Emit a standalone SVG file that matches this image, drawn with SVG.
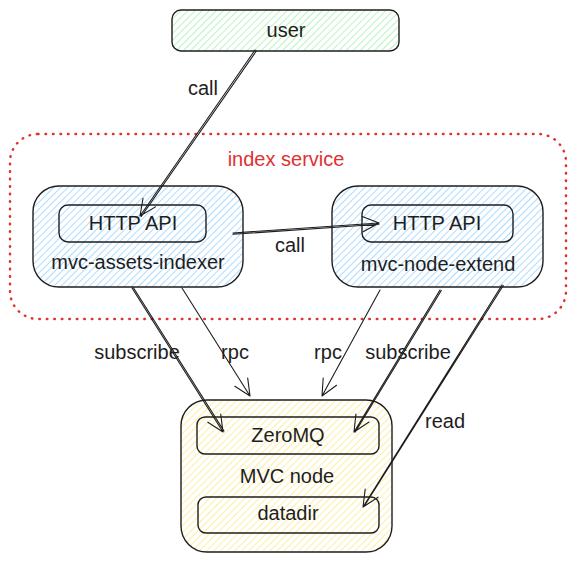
<svg xmlns="http://www.w3.org/2000/svg" width="574" height="561" viewBox="0 0 574 561">
  <defs>
    <pattern id="hGreen" patternUnits="userSpaceOnUse" width="5" height="5" patternTransform="rotate(45)">
      <line x1="0" y1="0" x2="0" y2="5" stroke="#b2f2bb" stroke-width="1.8"/>
    </pattern>
    <pattern id="hBlue" patternUnits="userSpaceOnUse" width="5" height="5" patternTransform="rotate(45)">
      <line x1="0" y1="0" x2="0" y2="5" stroke="#a5d8ff" stroke-width="1.8"/>
    </pattern>
    <pattern id="hYellow" patternUnits="userSpaceOnUse" width="5" height="5" patternTransform="rotate(45)">
      <line x1="0" y1="0" x2="0" y2="5" stroke="#ffec99" stroke-width="1.8"/>
    </pattern>
  </defs>
  <style>
    .box { stroke: #1e1e1e; stroke-width: 1.4; }
    .inner { fill: none; stroke: #1e1e1e; stroke-width: 1.4; }
    .t { font-family: "Liberation Sans", "DejaVu Sans", sans-serif; font-size: 20px; fill: #1e1e1e; text-anchor: middle; dominant-baseline: central; }
    .red { fill: #e03131; }
    .conn { fill: none; stroke: #1e1e1e; stroke-width: 1.1; stroke-linecap: round; stroke-linejoin: round; }
    .group { fill: none; stroke: #e03131; stroke-width: 2.5; stroke-dasharray: 0.5 7; stroke-linecap: round; }
  </style>
  <rect width="574" height="561" fill="#ffffff"/>

  <g id="index-service">
    <rect class="group" x="10" y="134" width="556" height="185" rx="28"/>
    <text class="t red" x="286" y="159">index service</text>
  </g>

  <g id="user">
    <rect class="box" fill="url(#hGreen)" x="172" y="10" width="227" height="41" rx="9"/>
    <text class="t" x="286" y="30">user</text>
  </g>

  <g id="mvc-assets-indexer">
    <rect class="box" fill="url(#hBlue)" x="33" y="186" width="210" height="101" rx="26"/>
    <rect class="inner" x="59" y="205" width="147" height="37" rx="9"/>
    <text class="t" x="133" y="223">HTTP API</text>
    <text class="t" x="138" y="262">mvc-assets-indexer</text>
  </g>

  <g id="mvc-node-extend">
    <rect class="box" fill="url(#hBlue)" x="332" y="186" width="211" height="101" rx="26"/>
    <rect class="inner" x="362" y="205" width="151" height="37" rx="9"/>
    <text class="t" x="437" y="223">HTTP API</text>
    <text class="t" x="438" y="264">mvc-node-extend</text>
  </g>

  <g id="mvc-node">
    <rect class="box" fill="url(#hYellow)" x="181" y="400" width="211" height="152" rx="26"/>
    <rect class="inner" x="197" y="417" width="182" height="37" rx="8"/>
    <text class="t" x="288" y="435">ZeroMQ</text>
    <text class="t" x="287" y="476">MVC node</text>
    <rect class="inner" x="198" y="497" width="181" height="36" rx="8"/>
    <text class="t" x="288" y="513">datadir</text>
  </g>

  <g id="connectors">
    <path class="conn" d="M255 50 L140 216 M256.3 51 L141.3 216.5 M155.5 206.9 L140 216 L143 198.3"/>
    <text class="t" x="203" y="88">call</text>

    <path class="conn" d="M233 233 L379 223 M233 234.3 L379 224.2 M362.2 216.5 L379 223 L363.2 231.7"/>
    <text class="t" x="290" y="245">call</text>

    <path class="conn" d="M132 288 L223 432 M133.3 287.5 L224 431 M220.7 414.1 L223 432 L207.8 422.3"/>
    <text class="t" x="137" y="352">subscribe</text>

    <path class="conn" d="M182 288 L250 396 M247.7 378.1 L250 396 L234.8 386.3"/>
    <text class="t" x="235" y="352">rpc</text>

    <path class="conn" d="M380 290 L322 396 M336.5 385.3 L322 396 L323.2 378"/>
    <text class="t" x="328" y="352">rpc</text>

    <path class="conn" d="M440 290 L354 432 M441.3 290.5 L355.3 432 M369 422 L354 432 L355.9 414.1"/>
    <text class="t" x="408" y="352">subscribe</text>

    <path class="conn" d="M502 285 L363 507 M503.3 285.5 L364.3 506 M378.1 497.2 L363 507 L365.2 489.1"/>
    <text class="t" x="445" y="421">read</text>
  </g>
</svg>
